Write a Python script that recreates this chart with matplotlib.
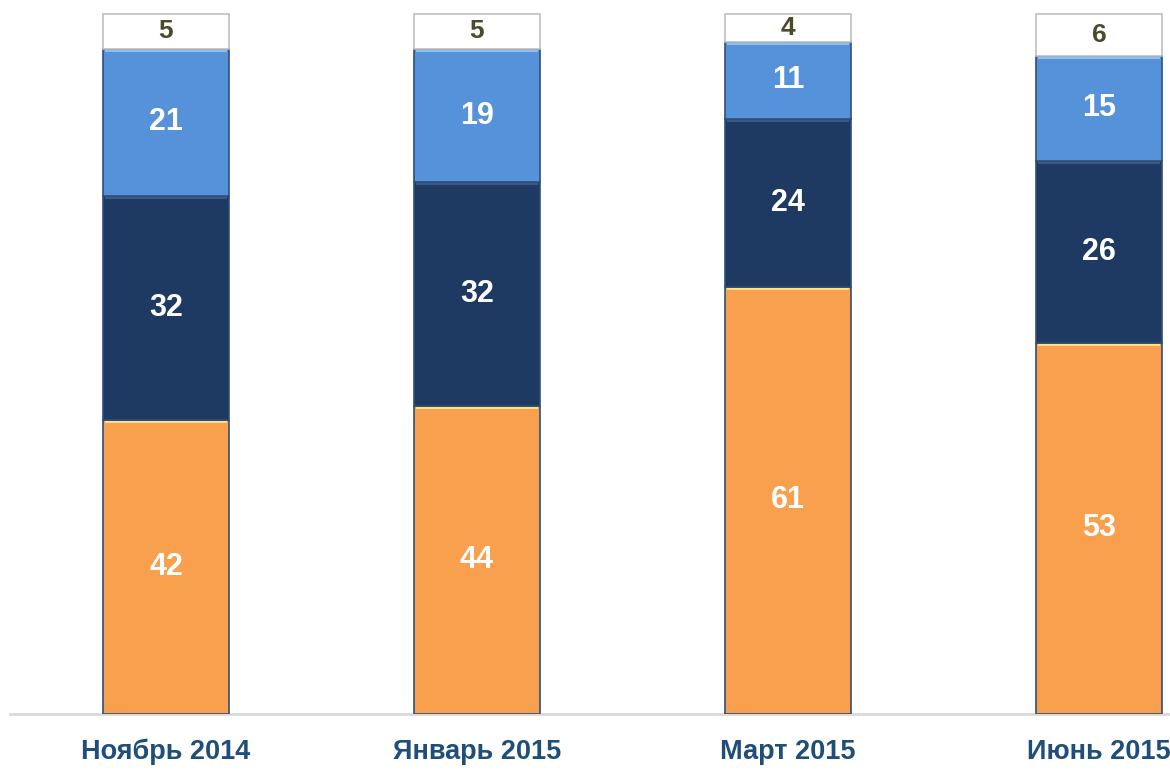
import matplotlib
matplotlib.use("Agg")
import matplotlib.pyplot as plt

categories = ["Ноябрь 2014", "Январь 2015", "Март 2015", "Июнь 2015"]
orange_vals = [42, 44, 61, 53]
navy_vals = [32, 32, 24, 26]
light_vals = [21, 19, 11, 15]
white_vals = [5, 5, 4, 6]

plt.rcParams['font.family'] = ['Liberation Sans', 'DejaVu Sans']
num_fs, cat_fs, top_fs = 22, 19.5, 19

fig = plt.figure(figsize=(11.7, 7.7), dpi=100)
ax = fig.add_axes([10/1170, 56/770, 1160/1170, 714/770])

x = [0, 1, 2, 3]
width = 0.405
series = [
    (orange_vals, "#F9A04E", "white", "#FFE08A"),
    (navy_vals, "#1E3A62", "white", "#3A5A85"),
    (light_vals, "#5592DA", "white", "#8CC0F5"),
    (white_vals, "#FFFFFF", "#4B4A2C", None),
]
bottom = [0, 0, 0, 0]
for vals, col, tcol, hl in series:
    edge = "#BFBFBF" if col == "#FFFFFF" else "#2E4F7A"
    ax.bar(x, vals, width, bottom=bottom, color=col, edgecolor=edge, linewidth=1.2, zorder=3)
    if hl is not None:
        tops = [b + v for b, v in zip(bottom, vals)]
        ax.bar(x, [0.35] * 4, width * 0.97, bottom=[t - 0.45 for t in tops], color=hl,
               linewidth=0, zorder=3.5)
    for xi, v, b in zip(x, vals, bottom):
        ax.text(xi, b + v / 2, str(v), ha="center", va="center", color=tcol,
                fontsize=num_fs if col != "#FFFFFF" else top_fs, fontweight="bold", zorder=4)
    bottom = [b + v for b, v in zip(bottom, vals)]

ax.set_xlim(-(166 - 10) / 311, 3 + (1170 - 1099) / 311)
ax.set_ylim(0, 102)
for s in ["top", "right", "left"]:
    ax.spines[s].set_visible(False)
ax.spines["bottom"].set_color("#D9D9D9")
ax.spines["bottom"].set_linewidth(2)
ax.set_yticks([])
ax.set_xticks(x)
ax.set_xticklabels(categories, fontsize=cat_fs, fontweight="bold", color="#1F4E79")
ax.tick_params(axis="x", length=0, pad=18)

fig.savefig("out.png", dpi=100)
